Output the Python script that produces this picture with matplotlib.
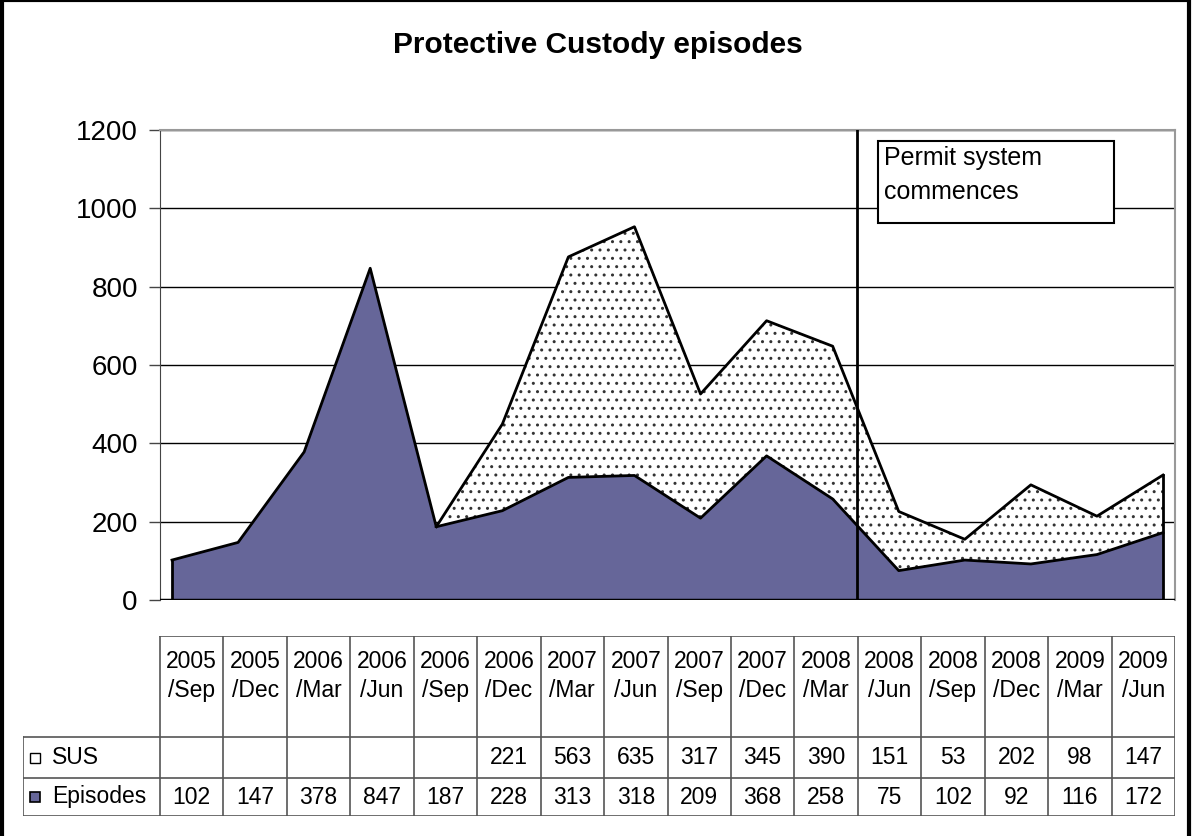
import numpy as np
import matplotlib
matplotlib.use("Agg")
import matplotlib.pyplot as plt
from matplotlib.patches import Rectangle

plt.rcParams['font.family'] = ['Liberation Sans', 'DejaVu Sans']
plt.rcParams['hatch.linewidth'] = 1.0

# data
periods = ["2005\n/Sep", "2005\n/Dec", "2006\n/Mar", "2006\n/Jun", "2006\n/Sep",
           "2006\n/Dec", "2007\n/Mar", "2007\n/Jun", "2007\n/Sep", "2007\n/Dec",
           "2008\n/Mar", "2008\n/Jun", "2008\n/Sep", "2008\n/Dec", "2009\n/Mar",
           "2009\n/Jun"]
episodes = [102, 147, 378, 847, 187, 228, 313, 318, 209, 368, 258, 75, 102, 92, 116, 172]
sus = [None, None, None, None, None, 221, 563, 635, 317, 345, 390, 151, 53, 202, 98, 147]
permit_x = 10.37  # where the permit system line sits
purple = "#666699"

W, H = 1192, 836
fig = plt.figure(figsize=(W / 100, H / 100), dpi=100)

def px_axes(x0, y0, x1, y1):
    return fig.add_axes([x0 / W, 1 - y1 / H, (x1 - x0) / W, (y1 - y0) / H])

# main chart
ax = px_axes(160, 130, 1175, 600)
x = np.arange(len(periods))
ep = np.array(episodes, dtype=float)
su = np.array([0 if v is None else v for v in sus], dtype=float)
top = ep + su
start = 4  # SUS area begins where the series first appears (as zero)

ax.fill_between(x, 0, ep, facecolor=purple, edgecolor="none", zorder=2)
ax.plot(x, ep, color="black", lw=2, zorder=4)
ax.fill_between(x[start:], ep[start:], top[start:], facecolor="white",
                hatch="..", edgecolor="#333333", linewidth=0, zorder=2)
ax.plot(x[start:], top[start:], color="black", lw=2, zorder=4)
ax.plot([0, 0], [0, ep[0]], color="black", lw=2, zorder=4)
ax.plot([x[-1], x[-1]], [0, top[-1]], color="black", lw=2, zorder=4)
ax.axhline(0, color="black", lw=2.5, zorder=5)

ax.set_xlim(-12 / 66.07, 15 + 12 / 66.07)
ax.set_ylim(0, 1200)
ax.set_yticks(range(0, 1201, 200))
ax.set_xticks([])
ax.yaxis.grid(True, color="black", lw=1)
ax.set_axisbelow(True)
ax.tick_params(axis="y", labelsize=20, length=8, width=1, pad=8, color="#444444")
for side in ["top", "right"]:
    ax.spines[side].set_color("#999999")
    ax.spines[side].set_linewidth(1.5)
ax.spines["left"].set_color("#444444")
ax.spines["bottom"].set_visible(False)

ax.axvline(permit_x, color="black", lw=2, zorder=6)
ax.add_patch(Rectangle((10.69, 962), 3.57, 210, facecolor="white",
                       edgecolor="black", lw=1.5, zorder=7))
ax.text(10.78, 1160, "Permit system\ncommences", fontsize=18, va="top",
        ha="left", linespacing=1.55, zorder=8)

fig.text(598 / W, 1 - 45 / H, "Protective Custody episodes", fontsize=21.5,
         fontweight="bold", ha="center", va="center")

# data table drawn below the chart
col_w = (1175 - 160) / 16
tx = px_axes(23, 636, 1175, 816)
tx.set_xlim(-(160 - 23) / col_w, 16)
tx.set_ylim(180, 0)
tx.axis("off")
lc = "#555555"
rows_y = [0, 101, 142, 180]
for i in range(17):
    tx.plot([i, i], [0, 180], color=lc, lw=1.2)
tx.plot([0, 16], [0, 0], color=lc, lw=1.2)
lab_x0 = tx.get_xlim()[0]
for yy in rows_y[1:]:
    tx.plot([lab_x0, 16], [yy, yy], color=lc, lw=1.2)
tx.plot([lab_x0, lab_x0], [101, 180], color=lc, lw=1.2)

fs = 16.5
for i, lab in enumerate(periods):
    tx.text(i + 0.5, 40, lab, ha="center", va="center", fontsize=fs, linespacing=1.35)
    if sus[i] is not None:
        tx.text(i + 0.5, 122, str(sus[i]), ha="center", va="center", fontsize=fs)
    tx.text(i + 0.5, 161, str(episodes[i]), ha="center", va="center", fontsize=fs)

kx = lab_x0 + 7 / col_w
tx.add_patch(Rectangle((kx, 117), 10 / col_w, 10, facecolor="white",
                       edgecolor="black", lw=1, hatch="."))
tx.add_patch(Rectangle((kx, 156), 10 / col_w, 10, facecolor=purple,
                       edgecolor="black", lw=1.2))
tx.text(lab_x0 + 29 / col_w, 122, "SUS", ha="left", va="center", fontsize=fs)
tx.text(lab_x0 + 29 / col_w, 161, "Episodes", ha="left", va="center", fontsize=fs)

# outer frame
fig.patches.append(Rectangle((2 / W, -0.01), 1187 / W, 1.01, transform=fig.transFigure,
                             fill=False, edgecolor="black", lw=3))

fig.savefig("out.png", dpi=100)
